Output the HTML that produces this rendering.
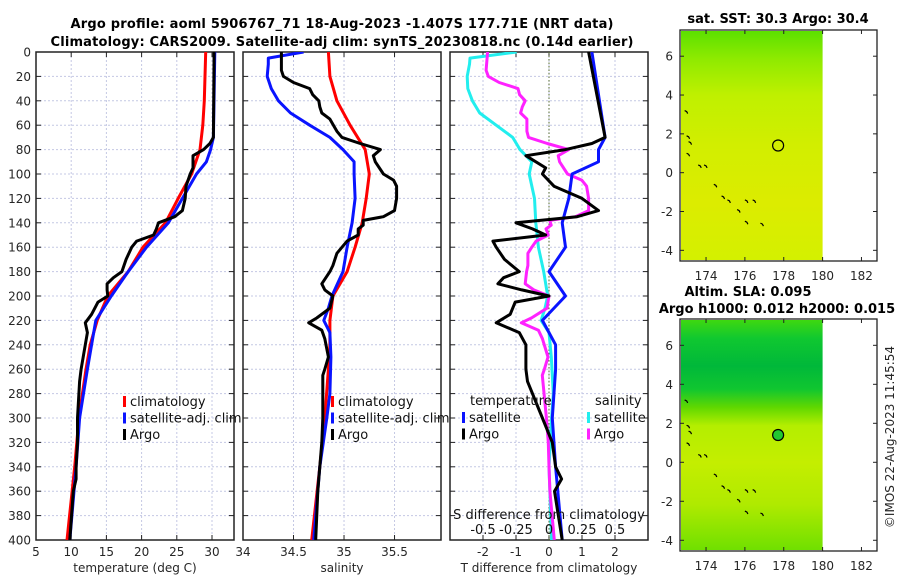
<!DOCTYPE html>
<html><head><meta charset="utf-8"><style>
html,body{margin:0;padding:0;background:#fff;}
svg{display:block;font-family:"DejaVu Sans","Liberation Sans",sans-serif;}
.tk{font-size:12px;fill:#262626;}
.tt{font-size:13px;font-weight:bold;fill:#000;}
</style></head><body>
<svg id="fig" width="900" height="580" viewBox="0 0 900 580" xmlns="http://www.w3.org/2000/svg">
<defs>
<linearGradient id="sstGrad" x1="0" y1="0" x2="0" y2="1">
<stop offset="0" stop-color="#5ce000"/><stop offset="0.12" stop-color="#8eea00"/><stop offset="0.28" stop-color="#bff000"/><stop offset="0.5" stop-color="#d2ee00"/><stop offset="0.75" stop-color="#dcec00"/><stop offset="1" stop-color="#d4f000"/>
</linearGradient>
<linearGradient id="slaGrad" x1="0" y1="0" x2="0" y2="1">
<stop offset="0" stop-color="#3ed810"/><stop offset="0.08" stop-color="#10c830"/><stop offset="0.2" stop-color="#00b83a"/><stop offset="0.3" stop-color="#10c630"/><stop offset="0.38" stop-color="#60d800"/><stop offset="0.46" stop-color="#b4ee00"/><stop offset="0.62" stop-color="#c4ee00"/><stop offset="0.8" stop-color="#b0ea00"/><stop offset="1" stop-color="#70e000"/>
</linearGradient>
<clipPath id="c1"><rect x="36" y="52" width="198" height="488"/></clipPath>
<clipPath id="c2"><rect x="243" y="52" width="198" height="488"/></clipPath>
<clipPath id="c3"><rect x="450" y="52" width="198" height="488"/></clipPath>
</defs>
<text class="tt" x="342" y="28" text-anchor="middle" textLength="543">Argo profile: aoml 5906767_71 18-Aug-2023 -1.407S 177.71E (NRT data)</text>
<text class="tt" x="342" y="46" text-anchor="middle" textLength="583">Climatology: CARS2009. Satellite-adj clim: synTS_20230818.nc (0.14d earlier)</text>
<g id="g1"></g>
<g id="g2"></g>
<g id="g3"></g>
<g id="m1"></g>
<g id="m2"></g>
<text class="tk" transform="translate(894,437) rotate(-90)" text-anchor="middle">©IMOS 22-Aug-2023 11:45:54</text>
</svg>
<script>
// ---- data ----
const climDepth = [0,20,40,60,80,100,120,140,160,180,200,220,240,260,300,340,400];
const climTemp  = [29.1,29.0,28.9,28.7,28.3,27.1,25.2,23.4,20.2,18.1,15.2,13.7,12.7,12.1,11.1,10.5,9.4];
const climSal   = [34.845,34.86,34.93,35.06,35.21,35.25,35.22,35.18,35.11,35.03,34.89,34.86,34.86,34.845,34.81,34.76,34.68];
const satTDepth = [0,70,80,90,100,120,140,160,180,200,220,240,260,300,340,400];
const satTemp   = [30.4,30.2,29.8,29.2,27.8,25.8,23.8,20.7,18.1,15.7,13.5,12.9,12.3,11.2,10.7,9.8];
const satSDepth = [0,5,10,20,30,40,50,60,70,80,90,100,120,140,160,180,200,210,220,230,250,280,300,340,400];
const satSal    = [34.6,34.25,34.25,34.24,34.28,34.35,34.47,34.66,34.86,34.99,35.1,35.1,35.11,35.08,35.03,34.99,34.88,34.845,34.8,34.86,34.87,34.86,34.83,34.76,34.7];
const argoTDepth = [0,70,75,80,85,95,100,110,120,130,135,140,145,150,155,160,170,180,185,190,195,200,205,215,222,230,240,250,260,270,300,320,340,350,360,400];
const argoTemp   = [30.3,30.2,29.7,28.8,27.3,27.3,26.9,26.3,26.2,25.8,24.7,22.4,22.1,21.7,19.3,18.6,17.8,17.2,16.0,15.1,15.1,15.2,13.8,12.9,12.0,12.3,12.0,11.7,11.4,11.2,10.9,10.9,10.7,10.7,10.3,9.8];
const argoSDepth = [0,15,20,25,30,35,40,45,50,55,65,70,75,80,85,90,100,105,110,120,130,135,138,142,145,150,155,160,165,175,180,190,195,200,210,218,222,228,235,250,260,265,300,320,340,360,400];
const argoSal    = [34.38,34.38,34.4,34.5,34.66,34.69,34.75,34.76,34.78,34.86,34.93,34.98,35.16,35.36,35.29,35.31,35.39,35.49,35.52,35.52,35.5,35.39,35.19,35.19,35.14,35.14,35.03,34.98,34.93,34.89,34.86,34.78,34.81,34.89,34.86,34.73,34.65,34.78,34.81,34.845,34.81,34.79,34.79,34.78,34.76,34.74,34.72];
const depthTicks = [0,20,40,60,80,100,120,140,160,180,200,220,240,260,280,300,320,340,360,380,400];
const tempTicks = [5,10,15,20,25,30];
const salTicks = [34,34.5,35,35.5];
const salTickLabels = ["34","34.5","35","35.5"];
const tdTicks = [-2,-1,0,1,2];
const sdTicks = [-0.5,-0.25,0,0.25,0.5];
const sdTickLabels = ["-0.5","-0.25","0","0.25","0.5"];
const lonTicks = [174,176,178,180,182];
const latTicks = [6,4,2,0,-2,-4];
const argoPos = [177.71, 1.4];
const sstTitle = "sat. SST: 30.3 Argo: 30.4";

// ---- helpers ----
const NS="http://www.w3.org/2000/svg";
function mk(tag, parent){const e=document.createElementNS(NS,tag);parent.appendChild(e);return e;}
const y0=52,y1=540;
const yD = d => y0 + d*(y1-y0)/400;
function lin(d0,d1,r0,r1){return v=>r0+(v-d0)*(r1-r0)/(d1-d0);}
const xT = lin(5,33.125,36,234);
const xS = lin(34,35.96,243,441);
const xTd = lin(-3,3,450,648);
const xSd = lin(-0.75,0.75,450,648);
function interp(ds,vs,d){for(let i=0;i<ds.length-1;i++){if(d>=ds[i]&&d<=ds[i+1]){return vs[i]+(vs[i+1]-vs[i])*(d-ds[i])/(ds[i+1]-ds[i]);}}return vs[vs.length-1];}

function panel(g,x0,w,xticks,xlabels,xscale,label,showY){
  // grid
  depthTicks.forEach(d=>{const l=mk('line',g);l.setAttribute('x1',x0);l.setAttribute('x2',x0+w);l.setAttribute('y1',yD(d));l.setAttribute('y2',yD(d));l.setAttribute('stroke','#c4c8e4');l.setAttribute('stroke-dasharray','2,2');l.setAttribute('stroke-width','1');
    
    
    [x0,x0+w-5].forEach(xx=>{const t=mk('line',g);t.setAttribute('x1',xx);t.setAttribute('x2',xx+5);t.setAttribute('y1',yD(d));t.setAttribute('y2',yD(d));t.setAttribute('stroke','#222');
      
      });
    if(showY){const tx=mk('text',g);tx.setAttribute('class','tk');tx.setAttribute('x',x0-5);tx.setAttribute('y',yD(d)+4.5);tx.setAttribute('text-anchor','end');tx.textContent=d;
      
      }
  });
  xticks.forEach((v,i)=>{const x=xscale(v);const l=mk('line',g);l.setAttribute('x1',x);l.setAttribute('x2',x);l.setAttribute('y1',y0);l.setAttribute('y2',y1);l.setAttribute('stroke','#c4c8e4');l.setAttribute('stroke-dasharray','2,2');
    
    
    [y0,y1-5].forEach(yy=>{const t=mk('line',g);t.setAttribute('x1',x);t.setAttribute('x2',x);t.setAttribute('y1',yy);t.setAttribute('y2',yy+5);t.setAttribute('stroke','#222');
      
      });
    const tx=mk('text',g);tx.setAttribute('class','tk');tx.setAttribute('x',x);tx.setAttribute('y',y1+16);tx.setAttribute('text-anchor','middle');tx.textContent=xlabels[i];
    
    
  });
  const r=mk('rect',g);r.setAttribute('x',x0);r.setAttribute('y',y0);r.setAttribute('width',w);r.setAttribute('height',y1-y0);r.setAttribute('fill','none');r.setAttribute('stroke','#222');r.setAttribute('stroke-width','1.5');
  
  
  const xl=mk('text',g);xl.setAttribute('class','tk');xl.setAttribute('x',x0+w/2);xl.setAttribute('y',572);xl.setAttribute('text-anchor','middle');xl.textContent=label;
  
  
}
function line(g,ds,vs,xs,color,clip,name){
  const p=mk('path',g);p.setAttribute('d',ds.map((d,i)=>(i?'L':'M')+xs(vs[i]).toFixed(1)+','+yD(d).toFixed(1)).join(''));
  p.setAttribute('fill','none');p.setAttribute('stroke',color);p.setAttribute('stroke-width','3');p.setAttribute('stroke-linejoin','round');p.setAttribute('clip-path','url(#'+clip+')');
  
  
}
function legend(g,x,y,items){
  items.forEach((it,i)=>{
    const r=mk('rect',g);r.setAttribute('x',x);r.setAttribute('y',y+i*16.5-10);r.setAttribute('width',3);r.setAttribute('height',11);r.setAttribute('fill',it[1]);
    
    
    const t=mk('text',g);t.setAttribute('class','tk');t.setAttribute('x',x+7);t.setAttribute('y',y+i*16.5);t.setAttribute('style','font-size:13px;fill:#111');t.textContent=it[0];
    
    
  });
}
const g1=document.getElementById('g1'),g2=document.getElementById('g2'),g3=document.getElementById('g3');
panel(g1,36,198,tempTicks,tempTicks.map(String),xT,'temperature (deg C)',true);
panel(g2,243,198,salTicks,salTickLabels,xS,'salinity',false);
panel(g3,450,198,tdTicks,tdTicks.map(String),xTd,'T difference from climatology',false);
// zero line
{const z=mk('line',g3);z.setAttribute('x1',xTd(0));z.setAttribute('x2',xTd(0));z.setAttribute('y1',y0);z.setAttribute('y2',y1);z.setAttribute('stroke','#556b2f');z.setAttribute('stroke-dasharray','1.5,2');
 
 }
line(g1,climDepth,climTemp,xT,'#ff0000','c1','clim-temp-line');
line(g1,satTDepth,satTemp,xT,'#0a14ff','c1','sat-temp-line');
line(g1,argoTDepth,argoTemp,xT,'#000','c1','argo-temp-line');
line(g2,climDepth,climSal,xS,'#ff0000','c2','clim-sal-line');
line(g2,satSDepth,satSal,xS,'#0a14ff','c2','sat-sal-line');
line(g2,argoSDepth,argoSal,xS,'#000','c2','argo-sal-line');
const satTd=satTDepth.map((d,i)=>satTemp[i]-interp(climDepth,climTemp,d));
const argoTd=argoTDepth.map((d,i)=>argoTemp[i]-interp(climDepth,climTemp,d));
const satSd=satSDepth.map((d,i)=>satSal[i]-interp(climDepth,climSal,d));
const argoSd=argoSDepth.map((d,i)=>argoSal[i]-interp(climDepth,climSal,d));
line(g3,satSDepth,satSd,xSd,'#22eeee','c3','sat-sal-diff-line');
line(g3,argoSDepth,argoSd,xSd,'#ff22ff','c3','argo-sal-diff-line');
line(g3,satTDepth,satTd,xTd,'#0a14ff','c3','sat-temp-diff-line');
line(g3,argoTDepth,argoTd,xTd,'#000','c3','argo-temp-diff-line');
legend(g1,123,406,[['climatology','#ff0000'],['satellite-adj. clim','#0a14ff'],['Argo','#000']]);
legend(g2,331,406,[['climatology','#ff0000'],['satellite-adj. clim','#0a14ff'],['Argo','#000']]);
{const t=mk('text',g3);t.setAttribute('class','tk');t.setAttribute('x',470);t.setAttribute('y',405);t.setAttribute('style','font-size:13px;fill:#111');t.textContent='temperature';
 
 
 const s=mk('text',g3);s.setAttribute('class','tk');s.setAttribute('x',595);s.setAttribute('y',405);s.setAttribute('style','font-size:13px;fill:#111');s.textContent='salinity';
 
 }
legend(g3,462,422,[['satellite','#0a14ff'],['Argo','#000']]);
legend(g3,587,422,[['satellite','#22eeee'],['Argo','#ff22ff']]);
{const t=mk('text',g3);t.setAttribute('class','tk');t.setAttribute('x',549);t.setAttribute('y',519);t.setAttribute('text-anchor','middle');t.setAttribute('style','font-size:13px;fill:#111');t.textContent='S difference from climatology';
 
 
 sdTicks.forEach((v,i)=>{const s=mk('text',g3);s.setAttribute('class','tk');s.setAttribute('x',xSd(v));s.setAttribute('y',534);s.setAttribute('text-anchor','middle');s.setAttribute('style','font-size:13px;fill:#111');s.textContent=sdTickLabels[i];
  
  });}

// ---- maps ----
function map(g,top,bot,grad,titles,filled){
  const L=680,R=877;
  const xL=lin(172.66,182.8,L,R);
  const yL=lin(7.35,-4.55,top,bot);
  const im=mk('rect',g);im.setAttribute('x',L+1);im.setAttribute('y',top+1);im.setAttribute('width',xL(180)-L-1);im.setAttribute('height',bot-top-2);im.setAttribute('fill','url(#'+grad+')');
  
  
  // coastline fragments (islands)
  const isl=[[172.9,3.2],[173.0,1.9],[173.1,1.6],[173.0,1.0],[173.6,0.4],[173.9,0.4],[174.4,-0.6],[174.8,-1.2],[175.1,-1.4],[175.6,-1.9],[176.0,-1.4],[176.4,-1.4],[176.0,-2.5],[176.8,-2.6]];
  isl.forEach(p=>{const s=mk('path',g);s.setAttribute('d','M'+xL(p[0])+','+yL(p[1])+'l2,1l1,2');s.setAttribute('stroke','#000');s.setAttribute('fill','none');s.setAttribute('stroke-width','1.2');
    
    });
  const c=mk('circle',g);c.setAttribute('cx',xL(argoPos[0]));c.setAttribute('cy',yL(argoPos[1]));c.setAttribute('r',5.5);c.setAttribute('fill',filled?'#22c830':'none');c.setAttribute('stroke','#000');c.setAttribute('stroke-width','1.2');
  
  
  const fr=mk('rect',g);fr.setAttribute('x',L);fr.setAttribute('y',top);fr.setAttribute('width',R-L);fr.setAttribute('height',bot-top);fr.setAttribute('fill','none');fr.setAttribute('stroke','#222');fr.setAttribute('stroke-width','1.3');
  
  
  lonTicks.forEach(v=>{const x=xL(v);[top,bot-4].forEach(yy=>{const t=mk('line',g);t.setAttribute('x1',x);t.setAttribute('x2',x);t.setAttribute('y1',yy);t.setAttribute('y2',yy+4);t.setAttribute('stroke','#222');
      
      });
    const tx=mk('text',g);tx.setAttribute('class','tk');tx.setAttribute('x',x);tx.setAttribute('y',bot+19);tx.setAttribute('text-anchor','middle');tx.textContent=v;
    
    });
  latTicks.forEach(v=>{const y=yL(v);[L,R-4].forEach(xx=>{const t=mk('line',g);t.setAttribute('x1',xx);t.setAttribute('x2',xx+4);t.setAttribute('y1',y);t.setAttribute('y2',y);t.setAttribute('stroke','#222');
      
      });
    const tx=mk('text',g);tx.setAttribute('class','tk');tx.setAttribute('x',L-7);tx.setAttribute('y',y+4.5);tx.setAttribute('text-anchor','end');tx.textContent=v;
    
    });
  titles.forEach(t=>{const tx=mk('text',g);tx.setAttribute('class','tt');tx.setAttribute('x',t[1]);tx.setAttribute('y',t[2]);tx.setAttribute('text-anchor','middle');tx.textContent=t[0];
    
    });
}
map(document.getElementById('m1'),30,261,'sstGrad',[[sstTitle,778,23]],false);
map(document.getElementById('m2'),319,551,'slaGrad',[['Altim. SLA: 0.095',748,296],['Argo h1000: 0.012 h2000: 0.015',777,313]],true);
</script>
</body></html>
